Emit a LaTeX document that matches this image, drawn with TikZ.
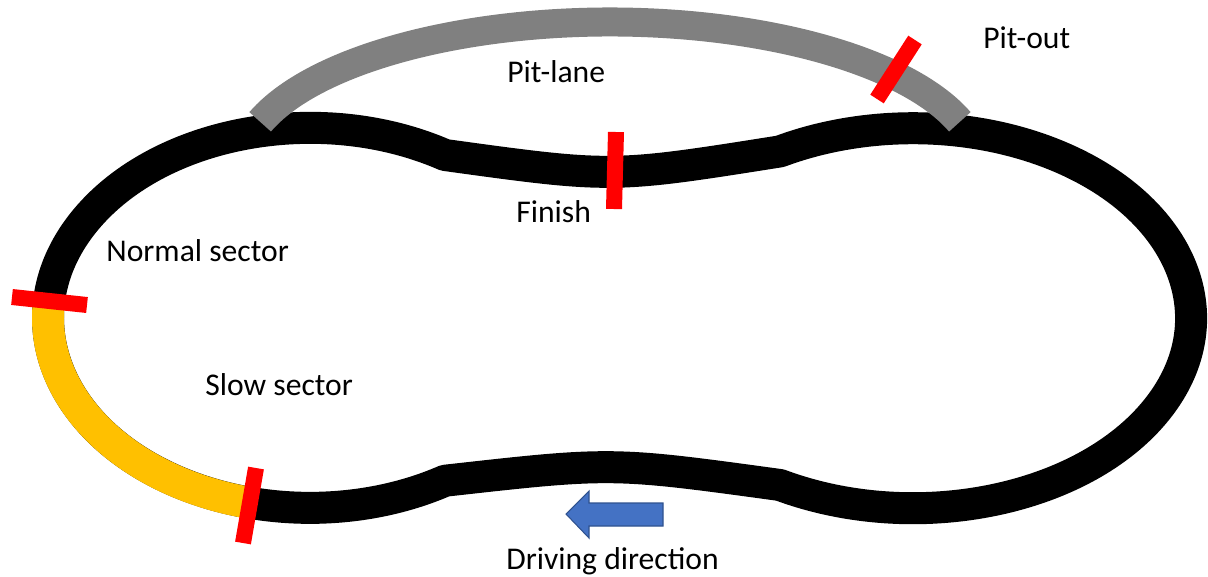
\documentclass[tikz,border=0pt]{standalone}
\usepackage{fontspec}
\setmainfont{Carlito}
\definecolor{slowyellow}{HTML}{FFC000}
\definecolor{pitgray}{HTML}{808080}
\definecolor{arrowblue}{HTML}{4472C4}
\definecolor{arrowedge}{HTML}{2F528F}

\begin{document}
\begin{tikzpicture}[x=0.02cm,y=-0.02cm,
    track/.style={line width=0.64cm,line join=round},
    pit/.style={line width=0.58cm,pitgray},
    marker/.style={line width=0.32cm,red},
    lbl/.style={anchor=base west,inner sep=0pt,font=\fontsize{18}{21}\selectfont}]
  \useasboundingbox (0,0) rectangle (1208,576);
  \coordinate (lc) at (310,318);
  \coordinate (rc) at (913,318);
  \coordinate (pc) at (610,170);
  % main track
  \draw[track] (445,155) arc[start angle=-59,end angle=-301,x radius=262,y radius=190]
      .. controls (612,462) .. (780,485)
      arc[start angle=118.6,end angle=-118.6,x radius=278,y radius=190]
      .. controls (612,178) .. (445,155) -- cycle;
  % slow sector
  \draw[track,slowyellow] (lc) ++(185.1:262 and 190)
      arc[start angle=185.1,end angle=103.5,x radius=262,y radius=190];
  % pit lane
  \draw[pit] (pc) ++(199:370 and 148)
      arc[start angle=199,end angle=341,x radius=370,y radius=148];
  % sector lines
  \draw[marker] (12,297) -- (87,305);
  \draw[marker] (256,468) -- (243,543);
  \draw[marker] (616,132) -- (614,209);
  \draw[marker] (915,40) -- (877,99);
  % driving direction
  \filldraw[fill=arrowblue,draw=arrowedge,line width=0.6pt] (663,503) -- (589,503) -- (589,491)
      -- (566,514) -- (589,538) -- (589,526) -- (663,526) -- cycle;
  \node[lbl] (normal) at (106,261) {Normal sector};
  \node[lbl] (slow) at (205,395) {Slow sector};
  \node[lbl] (pitlane) at (507,82) {Pit-lane};
  \node[lbl] (pitout) at (983,48) {Pit-out};
  \node[lbl] (finish) at (516,222) {Finish};
  \node[lbl] (driving) at (506,569) {Driving direction};
\end{tikzpicture}
\end{document}
